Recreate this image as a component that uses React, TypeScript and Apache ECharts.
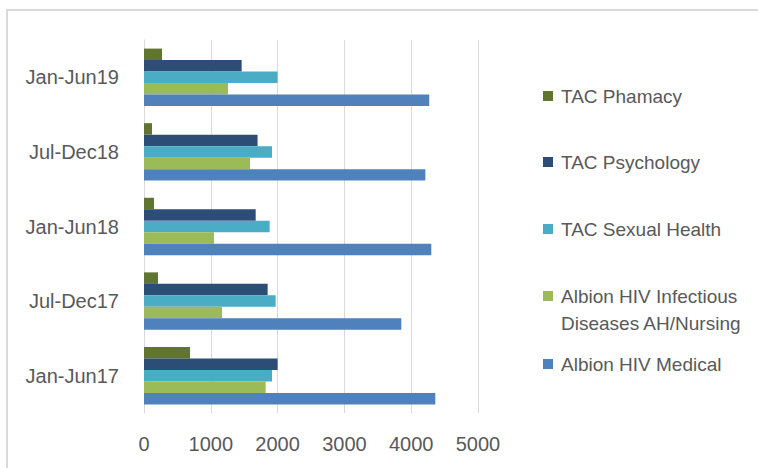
import React, { useEffect, useRef } from 'react';
import * as echarts from 'echarts';

const categories = ['Jan-Jun17', 'Jul-Dec17', 'Jan-Jun18', 'Jul-Dec18', 'Jan-Jun19'];
const seriesNames = [
  'TAC Phamacy',
  'TAC Psychology',
  'TAC Sexual Health',
  'Albion HIV Infectious Diseases AH/Nursing',
  'Albion HIV Medical',
];
const pharmacy = [689, 210, 150, 120, 270];
const psychology = [2000, 1851, 1672, 1700, 1462];
const sexualHealth = [1916, 1971, 1881, 1916, 2000];
const infectious = [1821, 1168, 1048, 1587, 1257];
const medical = [4361, 3852, 4301, 4212, 4270];
const seriesValues = [pharmacy, psychology, sexualHealth, infectious, medical];
const seriesColors = ['#5F7530', '#2C4D75', '#4BACC6', '#9BBB59', '#4F81BD'];
const xMax = 5000;
const xInterval = 1000;

const FONT = 'Liberation Sans';
const TEXT = '#595959';
const LINE_H = 27;

export default function App() {
  const ref = useRef<HTMLDivElement>(null);
  useEffect(() => {
    if (!ref.current) return;
    const chart = echarts.init(ref.current, undefined, { renderer: 'svg' });
    const legendCenters = [96, 162, 229, 296, 364];
    const legends = seriesNames.map((name, i) => {
      const twoLine = name.length > 25;
      return {
        data: [name],
        orient: 'vertical',
        left: 543,
        top: twoLine ? legendCenters[i] - 1.5 * LINE_H : legendCenters[i] - LINE_H / 2,
        padding: 0,
        itemWidth: 10,
        itemHeight: 10,
        icon: 'rect',
        selectedMode: false,
        formatter: twoLine ? () => '{e|}\nAlbion HIV Infectious\nDiseases AH/Nursing' : undefined,
        textStyle: {
          fontFamily: FONT,
          fontSize: 19,
          color: TEXT,
          lineHeight: LINE_H,
          padding: [0, 0, 0, 3],
          rich: { e: { height: LINE_H, lineHeight: LINE_H, fontSize: 19 } },
        },
      };
    });
    chart.setOption({
      animation: false,
      backgroundColor: '#fff',
      grid: { left: 144, right: 280, top: 40, bottom: 55, containLabel: false },
      legend: legends,
      graphic: [
        {
          type: 'rect',
          shape: { x: 7, y: 10, width: 800, height: 500 },
          style: { fill: 'none', stroke: '#d9d9d9', lineWidth: 2 },
          silent: true,
        },
      ],
      xAxis: {
        type: 'value',
        min: 0,
        max: xMax,
        interval: xInterval,
        axisLine: { show: false },
        axisTick: { show: false },
        splitLine: { show: true, lineStyle: { color: '#d9d9d9', width: 1 } },
        axisLabel: {
          fontFamily: FONT,
          fontSize: 20,
          color: TEXT,
          margin: 21,
          formatter: (v: number) => String(v),
        },
      },
      yAxis: {
        type: 'category',
        data: categories,
        axisLine: { show: true, lineStyle: { color: '#d9d9d9', width: 1 } },
        axisTick: { show: false },
        axisLabel: { fontFamily: FONT, fontSize: 20, color: TEXT, margin: 25 },
      },
      series: seriesNames.map((name, i) => ({
        type: 'bar',
        name,
        data: seriesValues[i],
        itemStyle: { color: seriesColors[i] },
        barGap: '0%',
        barCategoryGap: '23%',
      })),
    });
    return () => chart.dispose();
  }, []);
  return (
    <div
      ref={ref}
      style={{ position: 'fixed', left: 0, top: 0, width: 758, height: 468 }}
    />
  );
}
